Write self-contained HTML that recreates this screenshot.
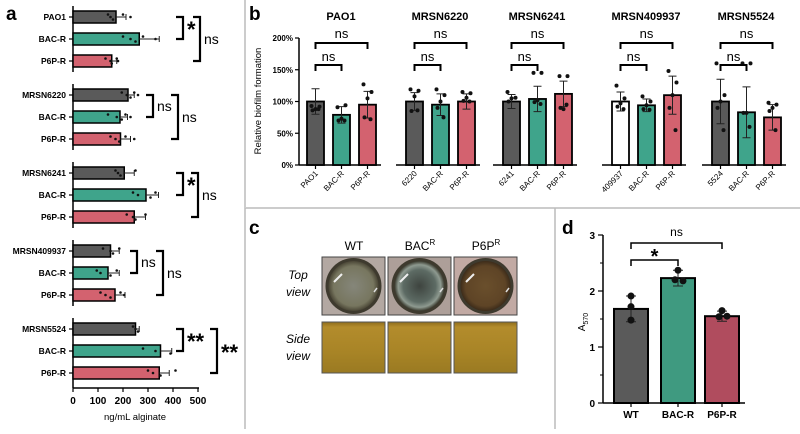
<!DOCTYPE html>
<html><head><meta charset="utf-8">
<style>
html,body{margin:0;padding:0;background:#fff;}
body{width:800px;height:429px;overflow:hidden;font-family:"Liberation Sans",Arial,sans-serif;}
svg text{font-family:"Liberation Sans",Arial,sans-serif;}
</style></head>
<body>
<svg id="fig" width="800" height="429" viewBox="0 0 800 429" xmlns="http://www.w3.org/2000/svg">
<defs>
<radialGradient id="wtIn" cx="50%" cy="50%" r="50%"><stop offset="0" stop-color="#85867a"/><stop offset="0.8" stop-color="#77765f"/><stop offset="1" stop-color="#4a4636"/></radialGradient>
<radialGradient id="bacIn" cx="50%" cy="50%" r="50%"><stop offset="0" stop-color="#3e443f"/><stop offset="0.65" stop-color="#5d6b64"/><stop offset="0.85" stop-color="#8e9a90"/><stop offset="1" stop-color="#3a3a2e"/></radialGradient>
<radialGradient id="p6pIn" cx="50%" cy="50%" r="50%"><stop offset="0" stop-color="#6a4f2c"/><stop offset="0.8" stop-color="#5e4426"/><stop offset="1" stop-color="#3d2c1a"/></radialGradient>
<linearGradient id="side" x1="0" y1="0" x2="0" y2="1"><stop offset="0" stop-color="#8f6d1c"/><stop offset="0.1" stop-color="#b38c2c"/><stop offset="0.6" stop-color="#a88426"/><stop offset="1" stop-color="#9a7a22"/></linearGradient>
</defs>
<line x1="245" y1="0" x2="245" y2="208" stroke="#bbb" stroke-width="1.5"/>
<line x1="245" y1="208" x2="800" y2="208" stroke="#ccc" stroke-width="2"/>
<line x1="245" y1="208" x2="245" y2="429" stroke="#bbb" stroke-width="1.5"/>
<line x1="555" y1="208" x2="555" y2="429" stroke="#bbb" stroke-width="1.5"/>
<text x="6" y="20" font-size="19" font-weight="bold">a</text>
<text x="249" y="20" font-size="19" font-weight="bold">b</text>
<text x="249" y="234" font-size="19" font-weight="bold">c</text>
<text x="562" y="234" font-size="19" font-weight="bold">d</text>
<g id="pa"></g><g id="pb"></g><g id="pc"></g><g id="pd"></g>
</svg>
<script>
const strains = ['PAO1','MRSN6220','MRSN6241','MRSN409937','MRSN5524'];
const conds = ['BAC-R','P6P-R'];
const aMeans = [[172,265,155],[220,188,190],[205,292,245],[150,140,168],[250,350,345]];
const aErr = [[40,80,20],[25,30,40],[40,50,45],[35,45,40],[15,45,40]];
const aDots = [[[140,150,160,200,230],[200,230,250,280,330],[130,150,155,175,180]],
 [[195,215,230,245,260],[140,175,195,210,230],[150,170,185,210,245]],
 [[170,180,190,250],[240,260,310,330],[215,240,250,290]],
 [[120,150,160,185],[95,110,150,175],[110,130,150,190,205]],
 [[240,250,260],[280,330,390],[300,320,350,410]]];
const aInnerLab = ['*','ns','*','ns','**'];
const aOuterLab = ['ns','ns','ns','ns','**'];
const aTicks = [0,100,200,300,400,500];

const bTick = ['PAO1','6220','6241','409937','5524'];
const bMeans = [[100,79,95],[100,95,100],[100,104,112],[100,94,110],[100,83,75]];
const bErr = [[20,13,21],[14,17,12],[11,20,20],[15,10,30],[35,40,20]];
const bDots = [[[93,92,88,86,88],[91,94,73,70,70],[127,115,105,75,72]],
 [[119,117,108,85,86],[119,110,100,90,75],[115,113,106,101,100]],
 [[115,106,105,100],[145,145,102,99,96],[140,140,88,90,95]],
 [[125,105,97,92,88],[108,100,94,88,87],[148,130,110,90,55]],
 [[160,110,100,90,55],[160,160,82,82,60],[98,95,90,85,55]]];
const bYTicks = [0,50,100,150,200];

const dCats = ['WT','BAC-R','P6P-R'];
const dMeans = [1.68,2.23,1.55];
const dErr = [0.23,0.14,0.09];
const dDots = [[1.91,1.72,1.48],[2.37,2.2,2.18],[1.65,1.54,1.55]];
const dTicks = [0,1,2,3];

const NS='http://www.w3.org/2000/svg';
function mk(p,tag,at,txt){const e=document.createElementNS(NS,tag);for(const k in at)e.setAttribute(k,at[k]);if(txt!==undefined)e.textContent=txt;p.appendChild(e);return e;}
const cols=['#5a5a5a','#3fa48b','#d3626f'];

const pa=document.getElementById('pa');
const ax=v=>73+v*0.25;
strains.forEach((s,g)=>{
  const y0=17+g*78;
  const ln=mk(pa,'line',{x1:73,x2:73,y1:y0-11,y2:g==4?388:y0+55,stroke:'#000','stroke-width':1.5});
  
  
  for(let i=0;i<3;i++){
    const yc=y0+i*22;
    const lab=i==0?s:conds[i-1];
    const t=mk(pa,'text',{x:66,y:yc+3,'font-size':8.5,'font-weight':'bold','text-anchor':'end'},lab);
    
    
    mk(pa,'line',{x1:69,x2:73,y1:yc,y2:yc,stroke:'#000','stroke-width':1.2});
    const r=mk(pa,'rect',{x:73,y:yc-6,width:ax(aMeans[g][i])-73,height:12,fill:cols[i],stroke:'#000','stroke-width':1.5});
    
    
    const ex=ax(aMeans[g][i]+aErr[g][i]);
    mk(pa,'line',{x1:ax(aMeans[g][i]),x2:ex,y1:yc,y2:yc,stroke:'#222','stroke-width':1});
    mk(pa,'line',{x1:ex,x2:ex,y1:yc-3,y2:yc+3,stroke:'#222','stroke-width':1});
    aDots[g][i].forEach((v,k)=>{const c=mk(pa,'circle',{cx:ax(v),cy:yc+((k%3)-1)*2.5,r:1.3,fill:'#111'});
      
      });
  }
  const bx=[183,153,183,137,183][g], ox=[200,178,198,163,217][g];
  const br=(x,ya,yb,lab)=>{mk(pa,'path',{d:`M${x-7},${ya}H${x}V${yb}H${x-7}`,fill:'none',stroke:'#000','stroke-width':2.2});
    const st=lab.includes('*');
    const t=mk(pa,'text',{x:x+4,y:(ya+yb)/2+(st?9:5),'font-size':st?22:14,'font-weight':st?'bold':'normal'},lab);
    
    };
  br(bx,y0,y0+22,aInnerLab[g]);
  br(ox,y0,y0+44,aOuterLab[g]);
});
mk(pa,'line',{x1:73,x2:199,y1:388,y2:388,stroke:'#000','stroke-width':1.5});
aTicks.forEach(v=>{mk(pa,'line',{x1:ax(v),x2:ax(v),y1:388,y2:392,stroke:'#000','stroke-width':1.2});
  const t=mk(pa,'text',{x:ax(v),y:404,'font-size':10,'font-weight':'bold','text-anchor':'middle'},v);
  
  });
const at=mk(pa,'text',{x:135,y:420,'font-size':9.5,'text-anchor':'middle'},'ng/mL alginate');



const pb=document.getElementById('pb');
const by=v=>165-v*0.635;
const gl=[307,406,503,612,712];
mk(pb,'line',{x1:299,x2:299,y1:38,y2:165,stroke:'#000','stroke-width':1.5});
bYTicks.forEach(v=>{mk(pb,'line',{x1:295,x2:299,y1:by(v),y2:by(v),stroke:'#000','stroke-width':1.2});
  const t=mk(pb,'text',{x:293,y:by(v)+3,'font-size':8,'font-weight':'bold','text-anchor':'end'},v+'%');
  
  });
const yt=mk(pb,'text',{x:261,y:101,'font-size':9.5,'text-anchor':'middle',transform:'rotate(-90 261 101)'},'Relative biofilm formation');


strains.forEach((s,g)=>{
  const L=gl[g];
  mk(pb,'line',{x1:g==0?299:L-10,x2:L+74,y1:165,y2:165,stroke:'#000','stroke-width':1.5});
  const tt=mk(pb,'text',{x:L+34,y:20,'font-size':11,'font-weight':'bold','text-anchor':'middle'},s);
  
  
  const cx=i=>L+8.5+i*26;
  for(let i=0;i<3;i++){
    const fill=(g==3&&i==0)?'#fff':cols[i];
    const r=mk(pb,'rect',{x:L+i*26,y:by(bMeans[g][i]),width:17,height:165-by(bMeans[g][i]),fill:fill,stroke:'#000','stroke-width':1.8});
    
    
    const e1=by(bMeans[g][i]+bErr[g][i]),e2=by(bMeans[g][i]-bErr[g][i]);
    mk(pb,'path',{d:`M${cx(i)},${e1}V${e2}M${cx(i)-4},${e1}H${cx(i)+4}M${cx(i)-4},${e2}H${cx(i)+4}`,stroke:'#222','stroke-width':1,fill:'none'});
    bDots[g][i].forEach((v,k)=>{const c=mk(pb,'circle',{cx:cx(i)+[-4,4,0,-3,3][k%5],cy:by(v),r:2,fill:'#111'});
      
      });
    mk(pb,'line',{x1:cx(i),x2:cx(i),y1:165,y2:169,stroke:'#000','stroke-width':1.2});
    const lab=i==0?bTick[g]:conds[i-1];
    const t=mk(pb,'text',{x:cx(i)+3,y:174,'font-size':8,'text-anchor':'end',transform:`rotate(-45 ${cx(i)+3} 174)`},lab);
    
    
  }
  mk(pb,'path',{d:`M${cx(0)},49V43H${cx(2)}V49`,fill:'none',stroke:'#000','stroke-width':2});
  mk(pb,'path',{d:`M${cx(0)},71V65H${cx(1)}V71`,fill:'none',stroke:'#000','stroke-width':2});
  const n1=mk(pb,'text',{x:(cx(0)+cx(2))/2,y:38,'font-size':13,'text-anchor':'middle'},'ns');
  
  
  const n2=mk(pb,'text',{x:(cx(0)+cx(1))/2,y:61,'font-size':13,'text-anchor':'middle'},'ns');
  
  
});

const pc=document.getElementById('pc');
const cl=[['WT',''],['BAC','R'],['P6P','R']];
const grads=['wtIn','bacIn','p6pIn'];
const xs=[322,388,454];
cl.forEach((c,i)=>{
  const t=mk(pc,'text',{x:xs[i]+32,y:250,'font-size':12,'text-anchor':'middle'},c[0]);
  if(c[1]){mk(t,'tspan',{'font-size':8,dy:-5},c[1]);}
  
  
  const g=mk(pc,'g',{});
  
  
  mk(g,'rect',{x:xs[i],y:257,width:63,height:58,fill:['#b3a8a2','#ad9f99','#c2aaa4'][i],stroke:'#444','stroke-width':1});
  mk(g,'circle',{cx:xs[i]+31.5,cy:286,r:28,fill:'#3e3a2e'});
  mk(g,'circle',{cx:xs[i]+31.5,cy:286,r:25,fill:`url(#${grads[i]})`});
  mk(g,'path',{d:`M${xs[i]+12},${282}l8,-8`,stroke:'#eee','stroke-width':2});
  mk(g,'path',{d:`M${xs[i]+52},${292}l3,-4`,stroke:'#ddd','stroke-width':1.5});
  const s=mk(pc,'rect',{x:xs[i],y:322,width:63,height:51,fill:'url(#side)',stroke:'#555','stroke-width':1});
  
  
});
[['Top',279],['view',296],['Side',343],['view',360]].forEach(p=>{
  const t=mk(pc,'text',{x:298,y:p[1],'font-size':12,'font-style':'italic','text-anchor':'middle'},p[0]);
  
  });

const pd=document.getElementById('pd');
const dy=v=>403-v*56;
const dx=[631,678,722];
mk(pd,'line',{x1:603,x2:603,y1:dy(3),y2:403,stroke:'#000','stroke-width':1.5});
mk(pd,'line',{x1:603,x2:745,y1:403,y2:403,stroke:'#000','stroke-width':1.5});
dTicks.forEach(v=>{mk(pd,'line',{x1:598,x2:603,y1:dy(v),y2:dy(v),stroke:'#000','stroke-width':1.2});
  if(v<3)mk(pd,'line',{x1:600,x2:603,y1:dy(v+0.5),y2:dy(v+0.5),stroke:'#000','stroke-width':1});
  const t=mk(pd,'text',{x:595,y:dy(v)+4,'font-size':10,'font-weight':'bold','text-anchor':'end'},v);
  
  });
const dt=mk(pd,'text',{x:585,y:322,'font-size':10,'text-anchor':'middle',transform:'rotate(-90 585 322)'},'A');
mk(dt,'tspan',{'font-size':7,dy:3},'570');


const dcol=['#5a5a5a','#3f9a80','#b04c5e'];
dCats.forEach((c,i)=>{
  const r=mk(pd,'rect',{x:dx[i]-17,y:dy(dMeans[i]),width:34,height:403-dy(dMeans[i]),fill:dcol[i],stroke:'#000','stroke-width':2});
  
  
  const e1=dy(dMeans[i]+dErr[i]),e2=dy(dMeans[i]-dErr[i]);
  mk(pd,'path',{d:`M${dx[i]},${e1}V${e2}M${dx[i]-5},${e1}H${dx[i]+5}M${dx[i]-5},${e2}H${dx[i]+5}`,stroke:'#222','stroke-width':1,fill:'none'});
  dDots[i].forEach((v,k)=>{const p=mk(pd,'circle',{cx:dx[i]+[0,-3,5][k]*(i==0?0:1),cy:dy(v),r:3.5,fill:'#111'});
    
    });
  mk(pd,'line',{x1:dx[i],x2:dx[i],y1:403,y2:407,stroke:'#000','stroke-width':1.2});
  const t=mk(pd,'text',{x:dx[i],y:418,'font-size':10,'font-weight':'bold','text-anchor':'middle'},c);
  
  
});
mk(pd,'path',{d:`M${dx[0]},249V243H${dx[2]}V249`,fill:'none',stroke:'#000','stroke-width':1.5});
mk(pd,'path',{d:`M${dx[0]},266V260H${dx[1]}V266`,fill:'none',stroke:'#000','stroke-width':1.5});
const s1=mk(pd,'text',{x:(dx[0]+dx[2])/2,y:236,'font-size':12,'text-anchor':'middle'},'ns');


const s2=mk(pd,'text',{x:(dx[0]+dx[1])/2,y:263,'font-size':20,'font-weight':'bold','text-anchor':'middle'},'*');


</script>
</body></html>
